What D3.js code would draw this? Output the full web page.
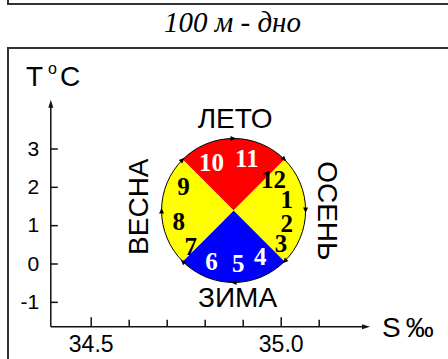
<!DOCTYPE html>
<html><head><meta charset="utf-8">
<script src="https://cdn.jsdelivr.net/npm/d3@7"></script>
<style>
html,body{margin:0;padding:0;background:#fff;}
svg{display:block;}
</style></head>
<body>
<svg id="c" width="448" height="359"></svg>
<script>
// ---- data ----
const title = "100 м - дно";
const xTicks = [34.5, 34.6, 34.7, 34.8, 34.9, 35.0, 35.1];
const xTickLabels = ["34.5", "", "", "", "", "35.0", ""];
const yTicks = [-1, 0, 1, 2, 3];
const yTickLabels = ["-1", "0", "1", "2", "3"];
const sExtent = [34.395, 35.235];
const tExtent = [-1.65, 4.27];
const circleCenter = [34.876, 1.383];   // S, T
const circleRadiusS = 0.1895;           // in salinity units
const seasons = ["ЛЕТО", "ОСЕНЬ", "ЗИМА", "ВЕСНА"];
const seasonColors = ["#ff0000", "#ffff00", "#0000ff", "#ffff00"];
const seasonStart = [-45, 45, 135, 225];  // degrees, clockwise from top
const months = ["1","2","3","4","5","6","7","8","9","10","11","12"];
const monthS = [35.016, 35.016, 35.001, 34.946, 34.888, 34.818, 34.763, 34.732, 34.744, 34.818, 34.911, 34.981];
const monthT = [1.657, 1.049, 0.509, 0.177, 0.005, 0.047, 0.438, 1.091, 2.004, 2.640, 2.745, 2.197];
const monthWhite = [false,false,false,true,true,true,false,false,false,true,true,false];
const arrowAngles = [0, 45, 90, 135, 180, 225, 270, 315];

// ---- chart ----
const svg = d3.select("#c");
const x = d3.scaleLinear().domain([34.5, 35.0]).range([90.7, 280.7]);
const y = d3.scaleLinear().domain([0, 3]).range([263.5, 148.5]);
const x0 = x(sExtent[0]), y0 = y(tExtent[0]);

// frames
svg.append("path").attr("d", `M8,0V4H448`).attr("fill","none").attr("stroke","#333").attr("stroke-width",2);
svg.append("path").attr("d", `M448,48H8V359`).attr("fill","none").attr("stroke","#333").attr("stroke-width",2);

svg.append("text").attr("x", 232.5).attr("y", 32)
  .attr("text-anchor","middle")
  .attr("font-family","'Liberation Serif','Times New Roman',serif")
  .attr("font-style","italic").attr("font-size",29).text(title);

const sans = "'Liberation Sans',Arial,sans-serif";

// axes lines with arrows
const ax = svg.append("g").attr("stroke","#111").attr("stroke-width",1.5).attr("fill","none");
const xEnd = x(sExtent[1]), yEnd = y(tExtent[1]);
ax.append("line").attr("x1",x0).attr("y1",y0).attr("x2",xEnd-4).attr("y2",y0);
ax.append("line").attr("x1",x0).attr("y1",y0).attr("x2",x0).attr("y2",yEnd+4);
svg.append("path").attr("d",`M${xEnd},${y0}l-8,-2.5v5z`).attr("fill","#111");
svg.append("path").attr("d",`M${x0},${yEnd}l-2.5,8h5z`).attr("fill","#111");

// x axis ticks
const xa = svg.append("g").attr("transform",`translate(0,${y0})`)
  .call(d3.axisBottom(x).tickValues(xTicks).tickSizeInner(-9).tickSizeOuter(0).tickPadding(8.7)
        .tickFormat((d,i)=>xTickLabels[i]));
xa.select(".domain").remove();
xa.selectAll(".tick line").attr("stroke","#111").attr("stroke-width",1.5)
  .attr("y2",(d,i)=> xTickLabels[i] ? -9.5 : -7);
xa.selectAll(".tick text").attr("font-family",sans).attr("font-size",23).attr("fill","#000");

// y axis ticks
const ya = svg.append("g").attr("transform",`translate(${x0},0)`)
  .call(d3.axisLeft(y).tickValues(yTicks).tickSizeInner(-7).tickSizeOuter(0).tickPadding(11.5)
        .tickFormat((d,i)=>yTickLabels[i]));
ya.select(".domain").remove();
ya.selectAll(".tick line").attr("stroke","#111").attr("stroke-width",1.5);
ya.selectAll(".tick text").attr("font-family",sans).attr("font-size",21).attr("fill","#000");

// axis titles
const tl = svg.append("text").attr("x",26).attr("y",86).attr("font-family",sans).attr("font-size",28);
tl.append("tspan").text("T");
tl.append("tspan").attr("font-size",16).attr("dy",-12).attr("dx",5).text("o");
tl.append("tspan").attr("dy",12).attr("dx",3).text("C");
const sl = svg.append("text").attr("x",382).attr("y",337).attr("font-family",sans).attr("font-size",28);
sl.append("tspan").text("S");
sl.append("tspan").attr("dx",5).attr("font-size",28).text("‰");

// circle
const cx = x(circleCenter[0]), cy = y(circleCenter[1]);
const r = x(circleCenter[0] + circleRadiusS) - cx;
const arc = d3.arc().innerRadius(0).outerRadius(r);
const g = svg.append("g").attr("transform",`translate(${cx},${cy})`);
g.selectAll("path.q").data(seasons).join("path").attr("class","q")
  .attr("d",(d,i)=>arc({startAngle: seasonStart[i]*Math.PI/180, endAngle:(seasonStart[i]+90)*Math.PI/180}))
  .attr("fill",(d,i)=>seasonColors[i]);
g.append("circle").attr("r",r).attr("fill","none").attr("stroke","#000").attr("stroke-width",1);
g.selectAll("path.ar").data(arrowAngles).join("path").attr("class","ar")
  .attr("transform",d=>{const a=d*Math.PI/180; return `translate(${r*Math.sin(a)},${-r*Math.cos(a)}) rotate(${d})`;})
  .attr("d","M2.5,0L-3,-2.5L-3,2.5Z").attr("fill","#000");

// month labels
svg.selectAll("text.m").data(months).join("text").attr("class","m")
  .attr("x",(d,i)=>x(monthS[i])).attr("y",(d,i)=>y(monthT[i]))
  .attr("dy","0.34em").attr("text-anchor","middle")
  .attr("font-family","'Liberation Serif','Times New Roman',serif").attr("font-weight","bold")
  .attr("font-size",25).attr("fill",(d,i)=>monthWhite[i]?"#fff":"#000").text(d=>d);

// season labels
const sf = 28;
svg.append("text").attr("x",cx+1.5).attr("y",128.3).attr("text-anchor","middle")
  .attr("font-family",sans).attr("font-size",sf).text(seasons[0]);
svg.append("text").attr("x",cx+4).attr("y",306.7).attr("text-anchor","middle")
  .attr("font-family",sans).attr("font-size",sf).text(seasons[2]);
svg.append("text").attr("transform",`translate(148.3,206.7) rotate(-90)`).attr("text-anchor","middle")
  .attr("font-family",sans).attr("font-size",sf).text(seasons[3]);
svg.append("text").attr("transform",`translate(318.3,210.8) rotate(90)`).attr("text-anchor","middle")
  .attr("font-family",sans).attr("font-size",sf).text(seasons[1]);
</script>
</body></html>
